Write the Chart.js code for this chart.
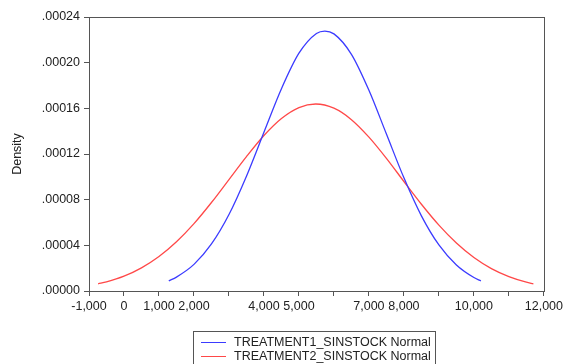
<!DOCTYPE html>
<html lang="en">
<head>
    <meta charset="UTF-8">
    <title>Density</title>
    <style>
        body {
            margin: 0;
            padding: 0;
            background: #fff;
            font-family: "Liberation Sans", Arial, sans-serif;
        }
        #wrap {
            position: relative;
            width: 566px;
            height: 364px;
            overflow: hidden;
        }
        #legend {
            position: absolute;
            left: 193px;
            top: 331px;
            width: 243px;
            height: 40px;
            border: 1px solid #555;
            box-sizing: border-box;
            font-size: 12.5px;
            color: #222;
        }
        .item {
            position: absolute;
            left: 7px;
            height: 14px;
            line-height: 14px;
            white-space: nowrap;
        }
        .swatch {
            display: inline-block;
            width: 25px;
            height: 0;
            vertical-align: middle;
            margin-right: 8px;
            border-top: 1px solid;
        }
    </style>
    <script src="https://cdn.jsdelivr.net/npm/chart.js"></script>
</head>
<body>
    <div id="wrap">
        <canvas id="densityChart" width="566" height="364"></canvas>
        <div id="legend"></div>
    </div>
    <script>
        // values
        const seriesNames = ['TREATMENT1_SINSTOCK Normal', 'TREATMENT2_SINSTOCK Normal'];
        const seriesColors = ['#3b3bff', '#ff4848'];

        const blueX = [1280, 1500, 2000, 2500, 3000, 3500, 4000, 4500, 5000, 5500, 5740, 6000, 6500, 7000, 7500, 8000, 8500, 9000, 9500, 10000, 10200];
        const blueY = [0.0000089, 0.0000122, 0.0000233, 0.0000412, 0.0000670, 0.0001006, 0.0001391, 0.0001772, 0.0002083, 0.0002256, 0.0002277, 0.0002252, 0.0002073, 0.0001758, 0.0001375, 0.0000991, 0.0000658, 0.0000403, 0.0000228, 0.0000118, 0.0000089];

        const redX = [-740, -500, 0, 500, 1000, 1500, 2000, 2500, 3000, 3500, 4000, 4500, 5000, 5480, 6000, 6500, 7000, 7500, 8000, 8500, 9000, 9500, 10000, 10500, 11000, 11500, 11700];
        const redY = [0.0000063, 0.0000080, 0.0000130, 0.0000203, 0.0000302, 0.0000431, 0.0000590, 0.0000775, 0.0000976, 0.0001177, 0.0001362, 0.0001511, 0.0001607, 0.0001638, 0.0001601, 0.0001501, 0.0001348, 0.0001162, 0.0000959, 0.0000760, 0.0000577, 0.0000420, 0.0000293, 0.0000196, 0.0000126, 0.0000077, 0.0000063];

        const xLabeled = [-1000, 0, 1000, 2000, 4000, 5000, 7000, 8000, 10000, 12000];
        const yTicks = [0, 0.00004, 0.00008, 0.00012, 0.00016, 0.00020, 0.00024];

        const toPoints = (xs, ys) => xs.map((x, i) => ({ x: x, y: ys[i] }));

        // box around the plot area
        const frame = {
            id: 'frame',
            afterDraw(chart) {
                const a = chart.chartArea;
                const ctx = chart.ctx;
                ctx.save();
                ctx.strokeStyle = '#555';
                ctx.lineWidth = 1;
                ctx.strokeRect(Math.round(a.left) + 0.5, Math.round(a.top) + 0.5, Math.round(a.right - a.left), Math.round(a.bottom - a.top));
                ctx.restore();
            }
        };

        const tickFont = { family: '"Liberation Sans", Arial, sans-serif', size: 12.5 };

        new Chart(document.getElementById('densityChart'), {
            type: 'line',
            data: {
                datasets: [
                    { label: seriesNames[0], data: toPoints(blueX, blueY), borderColor: seriesColors[0], borderWidth: 1.3, pointRadius: 0, cubicInterpolationMode: 'monotone', fill: false },
                    { label: seriesNames[1], data: toPoints(redX, redY), borderColor: seriesColors[1], borderWidth: 1.3, pointRadius: 0, cubicInterpolationMode: 'monotone', fill: false }
                ]
            },
            options: {
                responsive: false,
                animation: false,
                layout: { padding: { top: 17, right: 19, left: 0, bottom: 0 } },
                plugins: {
                    legend: { display: false },
                    tooltip: { enabled: false }
                },
                scales: {
                    x: {
                        type: 'linear',
                        min: -1000,
                        max: 12000,
                        afterFit: s => { s.height = 73; },
                        ticks: {
                            stepSize: 1000,
                            autoSkip: false,
                            maxRotation: 0,
                            padding: 3,
                            color: '#222',
                            font: tickFont,
                            callback: v => xLabeled.includes(v) ? v.toLocaleString('en-US') : ''
                        },
                        grid: { drawOnChartArea: false, tickLength: 5, color: '#555' },
                        border: { color: '#555' }
                    },
                    y: {
                        min: 0,
                        max: 0.00024,
                        afterFit: s => { s.width = 89; },
                        afterBuildTicks: s => { s.ticks = yTicks.map(v => ({ value: v })); },
                        ticks: {
                            padding: 4,
                            color: '#222',
                            font: tickFont,
                            callback: v => v.toFixed(5).replace(/^0/, '')
                        },
                        grid: { drawOnChartArea: false, tickLength: 5, color: '#555' },
                        border: { color: '#555' },
                        title: {
                            display: true,
                            text: 'Density',
                            color: '#222',
                            font: tickFont,
                            padding: { top: 10, bottom: 0 }
                        }
                    }
                }
            },
            plugins: [frame]
        });

        // legend in a bordered box below the plot
        const legend = document.getElementById('legend');
        seriesNames.forEach((name, i) => {
            const row = document.createElement('div');
            row.className = 'item';
            row.style.top = (3 + i * 14) + 'px';
            row.innerHTML = '<span class="swatch" style="border-color:' + seriesColors[i] + '"></span>' + name;
            legend.appendChild(row);
        });
    </script>
</body>
</html>
